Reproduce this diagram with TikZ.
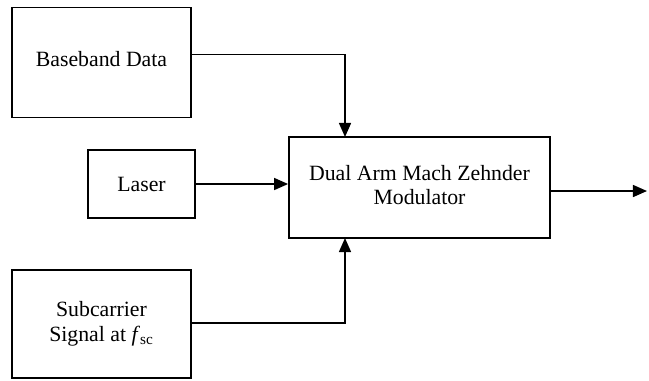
\documentclass[tikz,border=0pt]{standalone}
\usepackage{fontspec}
\setmainfont{Liberation Serif}
\usetikzlibrary{arrows.meta,positioning}

\begin{document}
\begin{tikzpicture}[x=0.02cm,y=-0.02cm,
    blk/.style={draw,line width=1pt,align=center,inner sep=0pt,
      font=\fontsize{12.4}{14}\selectfont},
    arr/.style={line width=1pt,-{Triangle[length=8pt,width=6.8pt]}}]
  \useasboundingbox (0,0) rectangle (649,380);

  % Source blocks
  \node[blk,minimum width=179*0.02cm,minimum height=110*0.02cm] (bb) at (101.5,62.5)
    {\raisebox{0.15cm}{Baseband Data}};
  \node[blk,minimum width=107*0.02cm,minimum height=68*0.02cm] (laser) at (141.5,184) {Laser};
  \node[blk,minimum width=179*0.02cm,minimum height=108*0.02cm] (sc) at (101.5,324)
    {\raisebox{-0.04cm}{\begin{tabular}{@{}c@{}}Subcarrier\\Signal at \textit{f}\textsubscript{sc}\end{tabular}}};

  % Modulator
  \node[blk,minimum width=261*0.02cm,minimum height=101*0.02cm] (mzm) at (419.5,187.5)
    {\raisebox{0.08cm}{\begin{tabular}{@{}c@{}}Dual Arm Mach Zehnder\\Modulator\end{tabular}}};

  % Input points on the modulator and the output end
  \coordinate (mzmtop) at (345,137);
  \coordinate (mzmbot) at (345,238);
  \coordinate (out) at (647,191);

  % Connectors
  \draw[arr] ([yshift=0.16cm]bb.east) -| (mzmtop);
  \draw[arr] (laser.east) -- (laser.east -| mzm.west);
  \draw[arr] ([yshift=0.02cm]sc.east) -| (mzmbot);
  \draw[arr] (mzm.east |- out) -- (out);
\end{tikzpicture}
\end{document}
